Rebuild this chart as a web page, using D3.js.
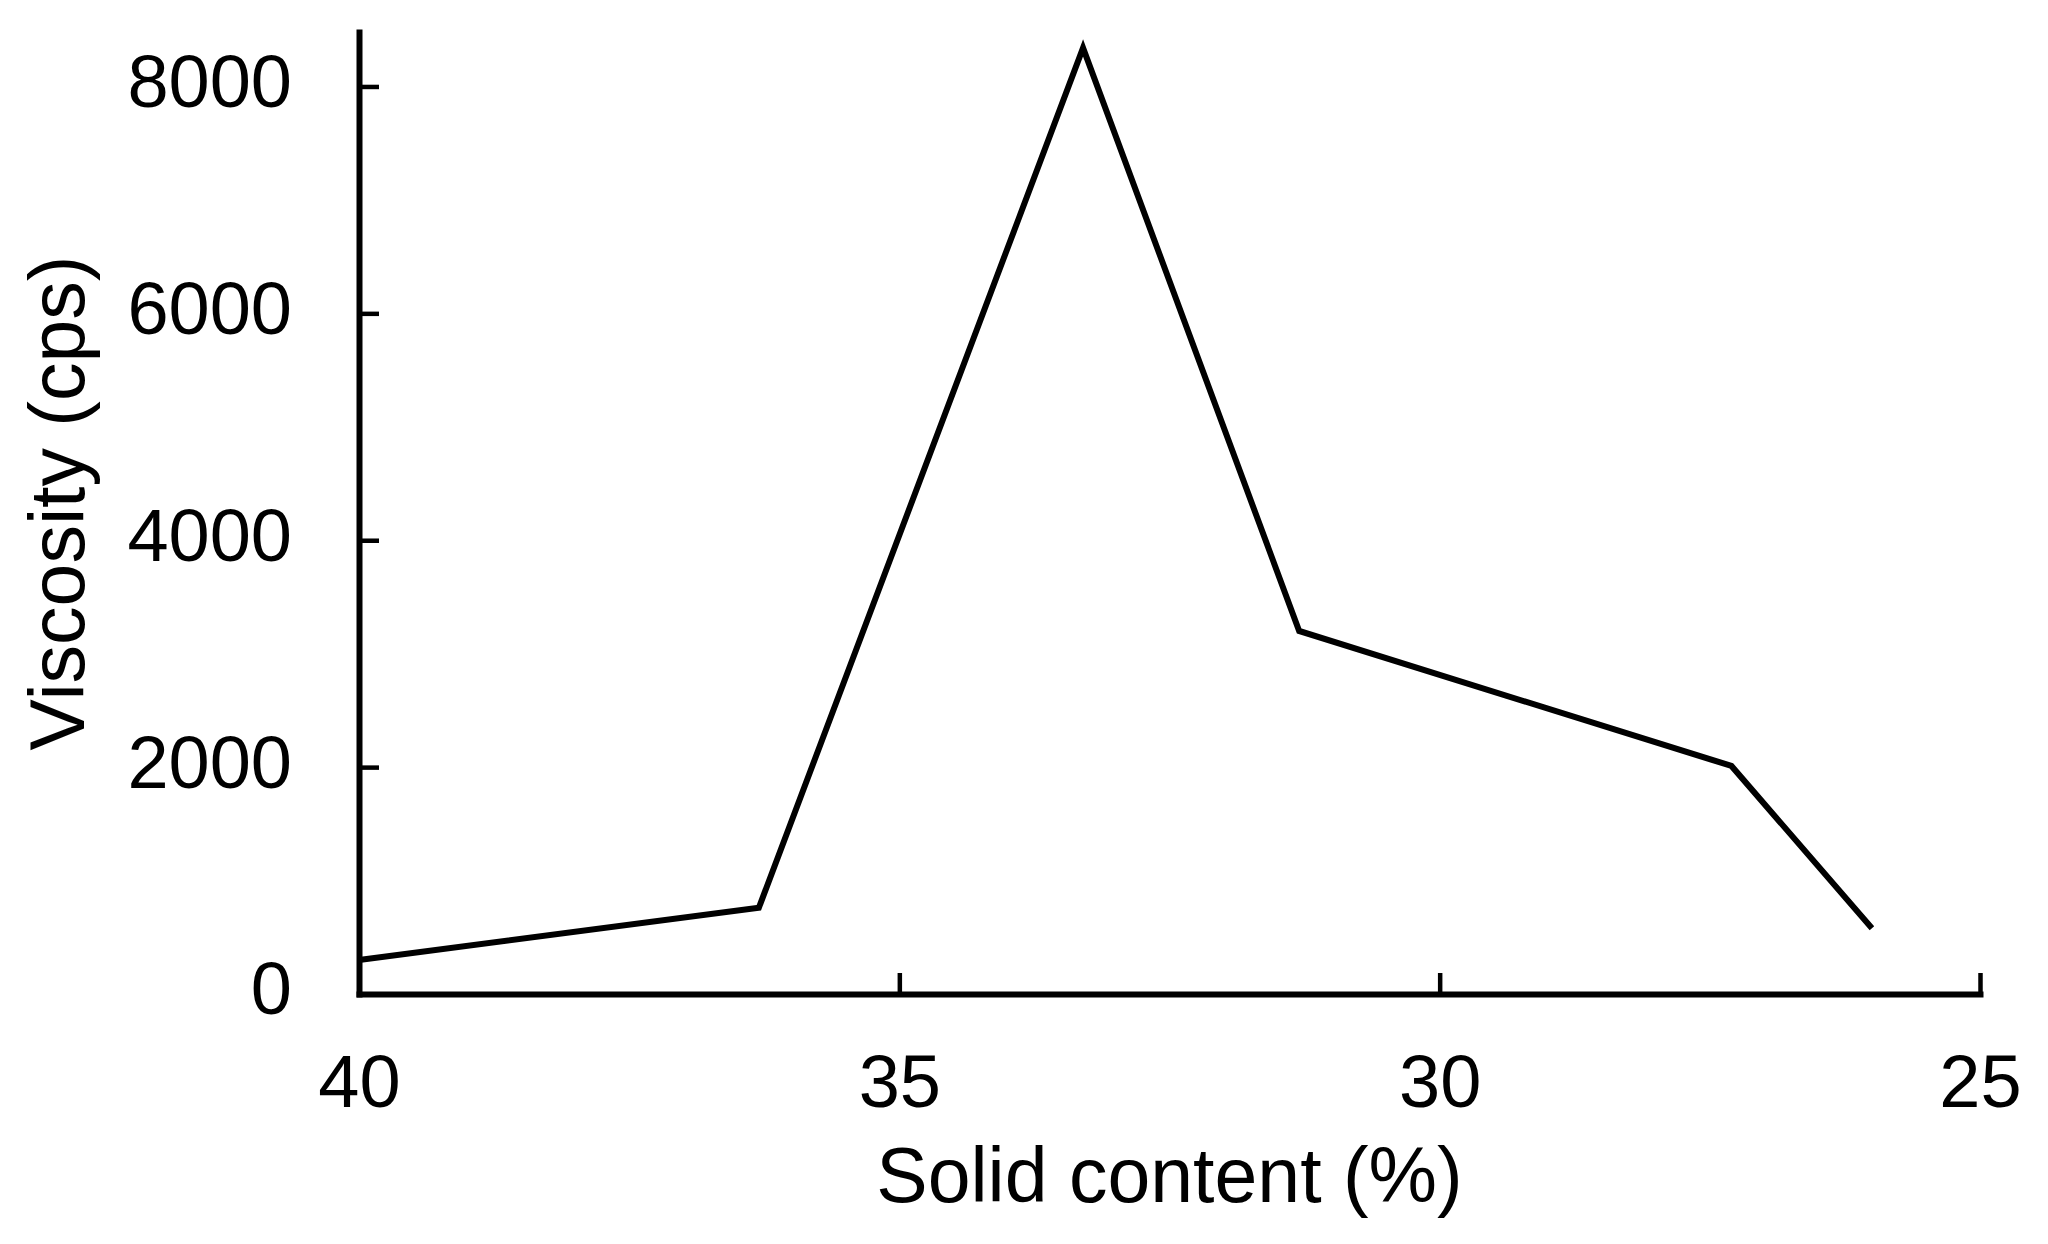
<!DOCTYPE html>
<html>
<head>
<meta charset="utf-8">
<script src="https://cdn.jsdelivr.net/npm/d3@7"></script>
<style>
  body { margin: 0; background: #fff; }
  text { font-family: "Liberation Sans", Arial, sans-serif; fill: #000; }
</style>
</head>
<body>
<div id="chart"></div>
<script>
// solid content (%) and measured viscosity (cps)
var solidContent = [40, 36.3, 33.3, 31.3, 27.3, 26.0];
var viscosity = [300, 760, 8340, 3200, 2010, 580];
var xTicks = [40, 35, 30, 25];
var yTicks = [0, 2000, 4000, 6000, 8000];

function renderLineChart(position) {
    var margin = {top: 32, right: 68, bottom: 250, left: 359},
        width = 2048 - margin.left - margin.right,
        height = 1244 - margin.top - margin.bottom;

    var svg = d3.select("#" + position)
        .append("svg")
        .attr("width", 2048)
        .attr("height", 1244)
        .append("g")
        .attr("transform", "translate(" + margin.left + "," + margin.top + ")");

    var x = d3.scaleLinear()
        .domain([40, 25])
        .range([0, width]);

    var y = d3.scaleLinear()
        .domain([0, 8480])
        .range([height, 0]);

    // x axis, ticks point inward
    var xAxis = svg.append("g")
        .attr("transform", "translate(0," + height + ")")
        .call(d3.axisBottom(x).tickValues(xTicks).tickFormat(d3.format("d"))
            .tickSizeInner(-21).tickSizeOuter(0).tickPadding(60));

    // y axis, ticks point inward too
    var yAxis = svg.append("g")
        .call(d3.axisLeft(y).tickValues(yTicks).tickFormat(d3.format("d"))
            .tickSizeInner(-20).tickSizeOuter(0).tickPadding(67));

    [xAxis, yAxis].forEach(function (ax) {
        ax.select(".domain").attr("stroke", "#000").attr("stroke-width", 6).attr("stroke-linecap", "square");
        ax.selectAll(".tick line").attr("stroke", "#000").attr("stroke-width", 4.5);
        ax.selectAll(".tick text")
            .style("font-size", "74px")
            .style("font-family", "'Liberation Sans', Arial, sans-serif")
            .attr("fill", "#000");
    });
    yAxis.selectAll(".tick text").attr("dy", "0.27em");

    // the curve
    var line = d3.line()
        .x(function (d) { return x(d[0]); })
        .y(function (d) { return y(d[1]); });

    svg.append("path")
        .datum(d3.zip(solidContent, viscosity))
        .attr("fill", "none")
        .attr("stroke", "#000")
        .attr("stroke-width", 6)
        .attr("stroke-linejoin", "miter")
        .attr("d", line);

    // axis titles
    svg.append("text")
        .attr("x", x(32.5))
        .attr("y", height + 208)
        .attr("text-anchor", "middle")
        .style("font-size", "77px")
        .text("Solid content (%)");

    svg.append("text")
        .attr("transform", "translate(" + (84 - margin.left) + "," + (503 - margin.top) + ") rotate(-90)")
        .attr("text-anchor", "middle")
        .style("font-size", "77px")
        .text("Viscosity (cps)");
}

renderLineChart("chart");
</script>
</body>
</html>
